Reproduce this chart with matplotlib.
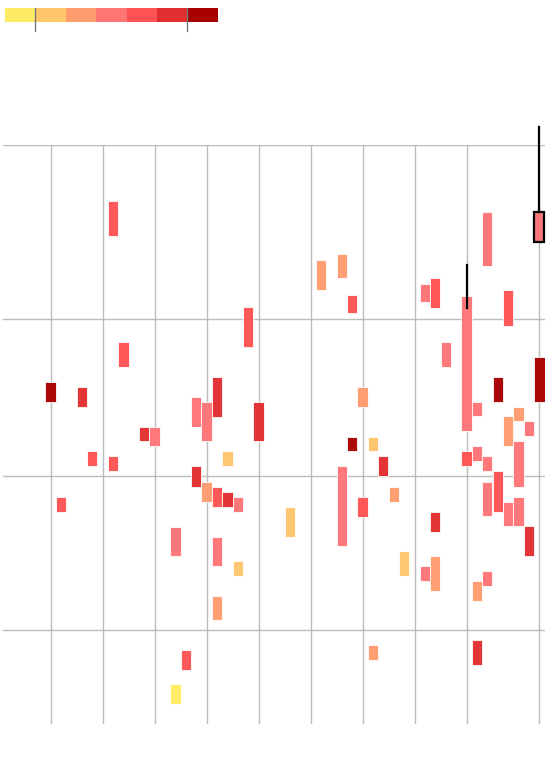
import matplotlib
matplotlib.use("Agg")
import matplotlib.pyplot as plt
from matplotlib.lines import Line2D

# colour scale (7 steps)
palette = ["#FFEC64", "#FFC66C", "#FF9C6E", "#FF7576", "#FF5252", "#E22E2E", "#A80000"]

# cells: column, top, bottom (distance below top grid line), colour step
cols = [10, 23, 30, 32, 33, 40, 41, 44, 46, 48, 51,
        4, 7, 11, 13, 14, 8, 10, 18, 19, 20, 24,
        21, 18, 19, 20, 21, 22, 5, 16, 20, 22, 20,
        17, 16, 27, 32, 34, 33, 35, 36, 34, 37, 38,
        41, 40, 41, 45, 46, 35, 45, 46, 47, 48, 49,
        49, 50, 42, 47, 51, 45, 48, 49, 50, 44, 45, 46]
tops = [56, 162, 115, 109, 150, 139, 133, 151, 67, 145, 67,
        237, 242, 197, 282, 282, 306, 311, 252, 257, 232, 257,
        306, 321, 337, 342, 347, 352, 352, 382, 392, 416, 451,
        505, 539, 362, 321, 242, 292, 292, 311, 352, 342, 406,
        367, 421, 411, 436, 426, 500, 495, 337, 326, 357, 352,
        296, 381, 197, 232, 212, 257, 271, 262, 276, 306, 301, 311]
bottoms = [91, 202, 145, 133, 168, 157, 163, 286, 121, 181, 97,
           257, 262, 222, 296, 301, 321, 326, 282, 296, 272, 296,
           321, 342, 357, 362, 362, 367, 367, 411, 421, 431, 475,
           525, 559, 392, 401, 262, 306, 306, 331, 372, 357, 431,
           387, 436, 446, 456, 441, 515, 520, 371, 367, 381, 381,
           342, 411, 222, 257, 257, 271, 301, 276, 291, 321, 316, 326]
levels = [4, 4, 2, 2, 4, 3, 4, 3, 3, 4, 3,
          6, 5, 4, 5, 3, 4, 4, 3, 3, 5, 5,
          1, 5, 2, 4, 5, 3, 4, 3, 3, 1, 2,
          4, 0, 1, 3, 2, 6, 1, 5, 4, 2, 1,
          5, 3, 2, 2, 3, 2, 5, 3, 4, 3, 3,
          3, 5, 3, 6, 6, 3, 2, 2, 3, 4, 3, 3]

x_grid = [4, 9, 14, 19, 24, 29, 34, 39, 44, 51]
y_grid = [0, 174, 331, 485]

# highlighted cell (box with whisker) and second whisker
box_col, box_top, box_bottom, box_whisker = 51, 67, 97, -18
line_col, line_top, line_bottom = 44, 120, 163

fig = plt.figure(figsize=(5.6, 7.66), dpi=100)
W, H = 560, 766

x0, x1 = 2.66, 544.5
y0, y1 = 145, 724
ax = fig.add_axes([x0 / W, 1 - y1 / H, (x1 - x0) / W, (y1 - y0) / H])
ax.set_xlim(-0.6, 51.5)
ax.set_ylim(579, 0)
ax.axis("off")

for gx in x_grid:
    ax.plot([gx, gx], [0, 579], color="#bcbcbc", lw=1, zorder=0)
for gy in y_grid:
    ax.plot([-0.6, 51.5], [gy, gy], color="#bcbcbc", lw=1, zorder=0)

heights = [b - t for t, b in zip(tops, bottoms)]
colors = [palette[l] for l in levels]
ax.bar(cols, heights, bottom=tops, width=1, color=colors, alpha=0.97,
       edgecolor=(1, 1, 1, 0.4), linewidth=0.6, zorder=2)

# box outline + whiskers
ax.bar([box_col], [box_bottom - box_top], bottom=[box_top], width=0.95,
       color="none", edgecolor="black", linewidth=1.6, zorder=4, clip_on=False)
ax.plot([box_col, box_col], [box_whisker, box_top], color="black", lw=1.6,
        zorder=4, clip_on=False)
ax.plot([line_col, line_col], [line_top, line_bottom], color="black", lw=1.6,
        zorder=4)

# colour legend
lx0, lx1, ly0, ly1 = 5, 218, 8, 22
lax = fig.add_axes([lx0 / W, 1 - ly1 / H, (lx1 - lx0) / W, (ly1 - ly0) / H])
lax.bar(range(len(palette)), [1] * len(palette), width=1, color=palette)
lax.set_xlim(-0.5, len(palette) - 0.5)
lax.set_ylim(0, 1)
lax.axis("off")
for tx in [35.3, 187.3]:
    fig.add_artist(Line2D([tx / W, tx / W], [1 - 8 / H, 1 - 31 / H],
                          color="#777777", lw=1, transform=fig.transFigure))

fig.savefig("out.png", dpi=100)
